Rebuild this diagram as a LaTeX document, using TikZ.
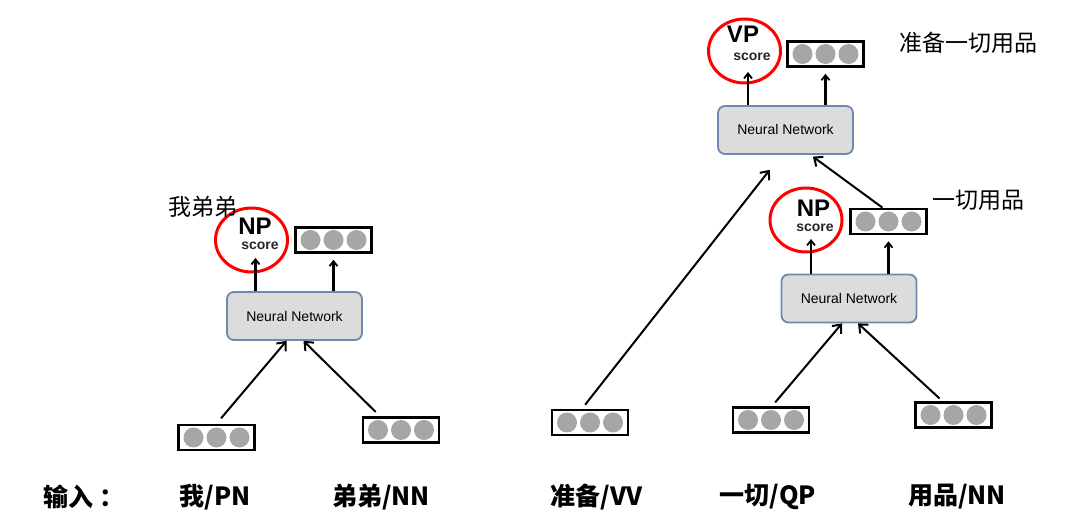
\documentclass[tikz,border=0pt]{standalone}
\usepackage{fontspec}
\setmainfont{Liberation Sans}
\newfontfamily\cjk{Noto Sans CJK SC}
\usepackage{tikz}
\usetikzlibrary{shapes.geometric,arrows.meta}
\definecolor{nnfill}{HTML}{DCDCDC}
\definecolor{nnline}{HTML}{6E89AE}
\definecolor{dotgray}{HTML}{A6A6A6}

\begin{document}
\begin{tikzpicture}[x=1pt,y=-1pt,
		wordvec/.style={draw,line width=2.6pt,fill=white,minimum width=76pt,minimum height=25pt,inner sep=0pt},
		nnbox/.style={draw=nnline,line width=1.8pt,fill=nnfill,rounded corners=7pt,minimum width=135pt,minimum height=48pt,font=\fontsize{14}{16}\selectfont},
		scorering/.style={ellipse,draw=red,line width=3pt,minimum width=72pt,minimum height=64pt,inner sep=0pt},
		catlabel/.style={inner sep=0pt,font=\bfseries\fontsize{24}{24}\selectfont},
		scorelabel/.style={inner sep=0pt,font=\bfseries\fontsize{14}{14}\selectfont,text=black!85},
		feed/.style={line width=2pt,-{Straight Barb[length=7pt,width=12pt,line width=2pt]}},
		upward/.style={line width=2.2pt,-{Straight Barb[length=5pt,width=8pt,line width=1.8pt]}},
		phrase/.style={font=\cjk\fontsize{23}{23}\selectfont},
		tag/.style={font=\cjk\bfseries\fontsize{25}{25}\selectfont}]
		{
			\def\dotgap{23}
			\def\dotr{10pt}
			\useasboundingbox (0,0) rectangle (1080,518);

			\node[wordvec] (w1) at (216.5,437.5) {};
			\node[wordvec] (w2) at (401,430) {};
			\node[nnbox] (nn1) at (294.5,316) {Neural Network};
			\node[scorering] (s1) at (251.5,240) {};
			\node[wordvec] (o1) at (333.5,240) {};

			\node[wordvec] (w3) at (590,422.5) {};
			\node[wordvec] (w4) at (771,420) {};
			\node[wordvec] (w5) at (953.5,415) {};
			\node[nnbox] (nn2) at (849,298.5) {Neural Network};
			\node[scorering] (s2) at (806,220) {};
			\node[wordvec] (o2) at (888.5,221.5) {};
			\node[nnbox] (nn3) at (785.5,130) {Neural Network};
			\node[scorering] (s3) at (744.5,51) {};
			\node[wordvec] (o3) at (825.5,54) {};

			\foreach \v in {w1,w2,w3,w4,w5,o1,o2,o3}
			{
				\foreach \k in {-1,0,1}
					\fill[dotgray] (\v.center) ++(\k*\dotgap,0) circle (\dotr);
			}

			\node[catlabel] (np1) at (255,226) {NP};
			\node[scorelabel] (sc1) at (260,245.5) {score};
			\node[catlabel] (np2) at (813.5,208) {NP};
			\node[scorelabel] (sc2) at (815,227.5) {score};
			\node[catlabel] (vp3) at (743,34) {VP};
			\node[scorelabel] (sc3) at (752,57) {score};

			\draw[upward] ([xshift=4pt]s1.center |- nn1.north) -- ([xshift=4pt,yshift=-18pt]s1.center);
			\draw[upward,shorten >=6pt] (nn1.north -| o1.south) -- (o1.south);
			\draw[upward] ([xshift=5pt]s2.center |- nn2.north) -- ([xshift=5pt,yshift=-19pt]s2.center);
			\draw[upward,shorten >=6pt] (nn2.north -| o2.south) -- (o2.south);
			\draw[upward] ([xshift=3.5pt]s3.center |- nn3.north) -- ([xshift=3.5pt,yshift=-21pt]s3.center);
			\draw[upward,shorten >=6pt] (nn3.north -| o3.south) -- (o3.south);

			\draw[feed,shorten <=7pt] (w1.north) -- ([xshift=-8pt]nn1.south);
			\draw[feed,shorten <=6pt] ([xshift=-21pt]w2.north) -- ([xshift=9pt]nn1.south);
			\draw[feed,shorten <=5pt] ([xshift=1pt]w4.north) -- ([xshift=-7pt]nn2.south);
			\draw[feed,shorten <=4pt] ([xshift=-11pt]w5.north) -- ([xshift=9pt]nn2.south);
			\draw[feed,shorten <=5pt,shorten >=19pt] ([xshift=-8pt]w3.north) -- ([xshift=-4pt]nn3.south);
			\draw[feed,shorten >=3pt] ([xshift=-6pt]o2.north) -- ([xshift=25pt]nn3.south);

			\node[phrase] (p1) at (202.5,207) {我弟弟};
			\node[phrase] (p2) at (978,200) {一切用品};
			\node[phrase] (p3) at (968,43) {准备一切用品};

			\node[tag] (in) at (84,497) {输入\hspace{6pt}：};
			\node[tag] (t1) at (215,497) {我/PN};
			\node[tag] (t2) at (381,497) {弟弟/NN};
			\node[tag] (t3) at (597,497) {准备/VV};
			\node[tag] (t4) at (768,497) {一切/QP};
			\node[tag] (t5) at (957,497) {用品/NN};
		}
\end{tikzpicture}
\end{document}
